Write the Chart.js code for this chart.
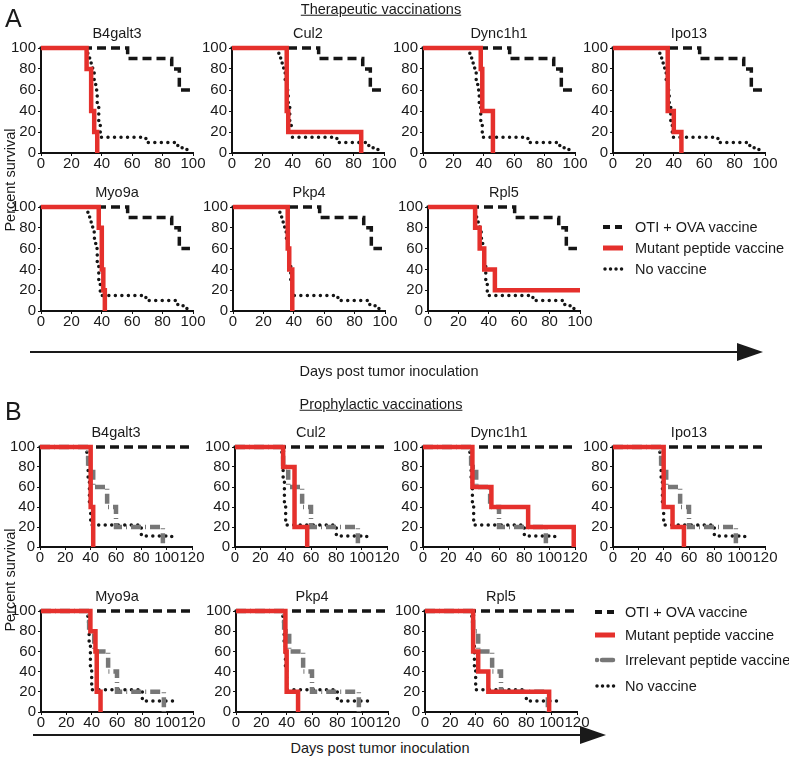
<!DOCTYPE html>
<html>
<head>
<meta charset="utf-8">
<script src="https://cdn.jsdelivr.net/npm/chart.js@4.4.0/dist/chart.umd.min.js"></script>
<style>
body { margin: 0; background: #fff; font-family: 'Liberation Sans', Arial, sans-serif; color: #1a1a1a; }
#fig { position: relative; width: 789px; height: 758px; overflow: hidden; }
#fig canvas { position: absolute; }
.txt { position: absolute; white-space: nowrap; line-height: 1; }
.c { transform: translate(-50%, -50%); }
.title { font-size: 14.5px; }
.section { font-size: 14.5px; text-decoration: underline; }
.letter { font-size: 25px; }
.ylab { font-size: 14.5px; transform: translate(-50%, -50%) rotate(-90deg); }
.arrow-line { position: absolute; height: 2px; background: #1a1a1a; }
.arrow-head { position: absolute; width: 0; height: 0; border-top: 9px solid transparent; border-bottom: 9px solid transparent; border-left: 26px solid #1a1a1a; }
.leg { position: absolute; font-size: 14.5px; line-height: 1; white-space: nowrap; transform: translateY(-50%); }
.legsvg { position: absolute; }
</style>
</head>
<body>
<div id="fig"></div>
<script>
// x tick labels (days) and y tick labels (percent)
const daysTicksA = [0, 20, 40, 60, 80, 100];
const daysTicksB = [0, 20, 40, 60, 80, 100, 120];
const pctTicks = [0, 20, 40, 60, 80, 100];

const genes = ['B4galt3', 'Cul2', 'Dync1h1', 'Ipo13', 'Myo9a', 'Pkp4', 'Rpl5'];

// survival curves as [day, percent surviving] at each step
// A: therapeutic, shared control groups
const otiA = [[0, 100], [57, 90], [86, 80], [91, 60], [98, 60]];
const noVacA = [[0, 100], [30, 95], [32, 90], [33, 85], [34, 80], [35, 70], [36, 60], [37, 45], [38, 30], [39, 15], [69, 10], [90, 5], [96, 0]];
// A: mutant peptide vaccine per gene
const mutA_B4galt3 = [[0, 100], [30, 80], [33, 40], [35, 20], [37, 0]];
const mutA_Cul2 = [[0, 100], [36, 40], [37, 20], [85, 0]];
const mutA_Dync1h1 = [[0, 100], [38, 80], [39, 40], [46, 0]];
const mutA_Ipo13 = [[0, 100], [36, 40], [40, 20], [45, 0]];
const mutA_Myo9a = [[0, 100], [38, 80], [40, 40], [41, 20], [42, 0]];
const mutA_Pkp4 = [[0, 100], [36, 60], [37, 40], [39, 0]];
const mutA_Rpl5 = [[0, 100], [31, 80], [34, 60], [37, 40], [44, 20], [100, 20]];

// B: prophylactic, shared control groups
const otiB = [[0, 100], [118, 100]];
const irrelB = [[0, 100], [38, 80], [42, 60], [53, 40], [60, 20], [97, 0]];
const noVacB = [[0, 100], [37, 89], [38, 67], [39, 44], [40, 22], [80, 11], [104, 5]];
// B: mutant peptide vaccine per gene
const mutB_B4galt3 = [[0, 100], [40, 40], [42, 0]];
const mutB_Cul2 = [[0, 100], [38, 80], [47, 20], [57, 0]];
const mutB_Dync1h1 = [[0, 100], [39, 60], [54, 40], [83, 20], [119, 0]];
const mutB_Ipo13 = [[0, 100], [40, 40], [47, 20], [56, 0]];
const mutB_Myo9a = [[0, 100], [39, 80], [43, 60], [44, 20], [47, 0]];
const mutB_Pkp4 = [[0, 100], [39, 60], [40, 20], [49, 0]];
const mutB_Rpl5 = [[0, 100], [38, 60], [42, 40], [50, 20], [98, 0]];

const mutA = [mutA_B4galt3, mutA_Cul2, mutA_Dync1h1, mutA_Ipo13, mutA_Myo9a, mutA_Pkp4, mutA_Rpl5];
const mutB = [mutB_B4galt3, mutB_Cul2, mutB_Dync1h1, mutB_Ipo13, mutB_Myo9a, mutB_Pkp4, mutB_Rpl5];

const legendA = ['OTI + OVA vaccine', 'Mutant peptide vaccine', 'No vaccine'];
const legendB = ['OTI + OVA vaccine', 'Mutant peptide vaccine', 'Irrelevant peptide vaccine', 'No vaccine'];

// layout (pixels): plot left edge, plot top (100%), plot bottom (0%)
const layoutA = [
    [41, 48, 153], [232, 48, 153], [423, 48, 153], [613, 48, 153],
    [41, 207, 311], [233, 207, 311], [428, 207, 311]
];
const layoutB = [
    [40, 447, 547], [235, 447, 547], [423, 447, 547], [613, 447, 547],
    [41, 611, 712], [236, 611, 712], [425, 611, 712]
];
const PLOT_W = 152;
const YW = 36, PR = 16, PT = 10, XH = 20;

const RED = '#e5302c';
const styles = {
    oti: { borderColor: '#151515', borderWidth: 3.5, borderDash: [9, 5], borderCapStyle: 'butt', order: 1 },
    mut: { borderColor: RED, borderWidth: 4.5, borderDash: [], borderCapStyle: 'butt', order: 0 },
    irr: { borderColor: '#777', borderWidth: 4.5, borderDash: [10, 4, 1, 4], borderCapStyle: 'butt', order: 2 },
    none: { borderColor: '#151515', borderWidth: 3.5, borderDash: [0.01, 6.5], borderCapStyle: 'round', order: 3 }
};

const fig = document.getElementById('fig');

function addText(cls, text, x, y) {
    const d = document.createElement('div');
    d.className = 'txt ' + cls;
    d.textContent = text;
    d.style.left = x + 'px';
    d.style.top = y + 'px';
    fig.appendChild(d);
    return d;
}

function curve(label, points, style) {
    return Object.assign({
        label: label,
        data: points.map(p => ({ x: p[0], y: p[1] })),
        stepped: true,
        pointRadius: 0,
        fill: false,
        clip: false
    }, style);
}

function makePanel(gene, pos, xTicks, datasets) {
    const [x0, top, bottom] = pos;
    const plotH = bottom - top;
    const canvas = document.createElement('canvas');
    canvas.width = YW + PLOT_W + PR;
    canvas.height = PT + plotH + XH;
    canvas.style.left = (x0 - YW) + 'px';
    canvas.style.top = (top - PT) + 'px';
    fig.appendChild(canvas);

    const tickFont = { family: "'Liberation Sans', Arial, sans-serif", size: 15, lineHeight: 1 };
    new Chart(canvas, {
        type: 'line',
        data: { datasets: datasets },
        options: {
            responsive: false,
            animation: false,
            layout: { padding: { top: PT, right: PR, left: 0, bottom: 0 } },
            plugins: { legend: { display: false }, tooltip: { enabled: false } },
            scales: {
                x: {
                    type: 'linear',
                    min: xTicks[0],
                    max: xTicks[xTicks.length - 1],
                    afterBuildTicks: s => { s.ticks = xTicks.map(v => ({ value: v })); },
                    ticks: { autoSkip: false, maxRotation: 0, padding: 0, color: '#1a1a1a', font: tickFont },
                    grid: { drawOnChartArea: false, tickLength: 3, color: '#111', lineWidth: 1 },
                    border: { color: '#111', width: 2 },
                    afterFit: s => { s.height = XH; }
                },
                y: {
                    type: 'linear',
                    min: 0,
                    max: 100,
                    afterBuildTicks: s => { s.ticks = pctTicks.map(v => ({ value: v })); },
                    ticks: { autoSkip: false, padding: 2, color: '#1a1a1a', font: tickFont },
                    grid: { drawOnChartArea: false, tickLength: 3, color: '#111', lineWidth: 1 },
                    border: { color: '#111', width: 2 },
                    afterFit: s => { s.width = YW; }
                }
            }
        }
    });
    addText('title c', gene, x0 + PLOT_W / 2, top - 15);
}

// panel A
genes.forEach((g, i) => {
    makePanel(g, layoutA[i], daysTicksA, [
        curve(legendA[1], mutA[i], styles.mut),
        curve(legendA[0], otiA, styles.oti),
        curve(legendA[2], noVacA, styles.none)
    ]);
});

// panel B
genes.forEach((g, i) => {
    makePanel(g, layoutB[i], daysTicksB, [
        curve(legendB[1], mutB[i], styles.mut),
        curve(legendB[0], otiB, styles.oti),
        curve(legendB[2], irrelB, styles.irr),
        curve(legendB[3], noVacB, styles.none)
    ]);
});

// letters, section titles, axis labels
addText('letter', 'A', 5, 6);
addText('letter', 'B', 5, 399);
addText('section c', 'Therapeutic vaccinations', 381, 9);
addText('section c', 'Prophylactic vaccinations', 381, 404);
addText('ylab', 'Percent survival', 10, 180);
addText('ylab', 'Percent survival', 10, 580);
addText('title c', 'Days post tumor inoculation', 389, 371);
addText('title c', 'Days post tumor inoculation', 380, 748);

function arrow(x1, x2, y) {
    const l = document.createElement('div');
    l.className = 'arrow-line';
    l.style.left = x1 + 'px';
    l.style.top = (y - 1) + 'px';
    l.style.width = (x2 - 26 - x1 + 2) + 'px';
    fig.appendChild(l);
    const h = document.createElement('div');
    h.className = 'arrow-head';
    h.style.left = (x2 - 26) + 'px';
    h.style.top = (y - 9) + 'px';
    fig.appendChild(h);
}
arrow(30, 763, 352);
arrow(33, 606, 735);

// legends
const legendSamples = {
    oti: '<line x1="0" y1="6" x2="20" y2="6" stroke="#151515" stroke-width="4" stroke-dasharray="7,5"/>',
    mut: '<line x1="0" y1="6" x2="20" y2="6" stroke="' + RED + '" stroke-width="5"/>',
    irr: '<line x1="2" y1="6" x2="18" y2="6" stroke="#777" stroke-width="4.5" stroke-dasharray="0.01,5,12,0" stroke-linecap="round"/>',
    none: '<line x1="2" y1="6" x2="20" y2="6" stroke="#151515" stroke-width="3.5" stroke-dasharray="0.01,5.5" stroke-linecap="round"/>'
};
function legendRow(kind, text, xs, xt, y) {
    const s = document.createElementNS('http://www.w3.org/2000/svg', 'svg');
    s.setAttribute('class', 'legsvg');
    s.setAttribute('width', '22');
    s.setAttribute('height', '12');
    s.style.left = xs + 'px';
    s.style.top = (y - 6) + 'px';
    s.innerHTML = legendSamples[kind];
    fig.appendChild(s);
    const d = document.createElement('div');
    d.className = 'leg';
    d.textContent = text;
    d.style.left = xt + 'px';
    d.style.top = y + 'px';
    fig.appendChild(d);
}
legendRow('oti', legendA[0], 603, 635, 227);
legendRow('mut', legendA[1], 603, 635, 248);
legendRow('none', legendA[2], 603, 635, 269);
legendRow('oti', legendB[0], 595, 625, 612);
legendRow('mut', legendB[1], 595, 625, 635);
legendRow('irr', legendB[2], 595, 625, 660);
legendRow('none', legendB[3], 595, 625, 686);
</script>
</body>
</html>
